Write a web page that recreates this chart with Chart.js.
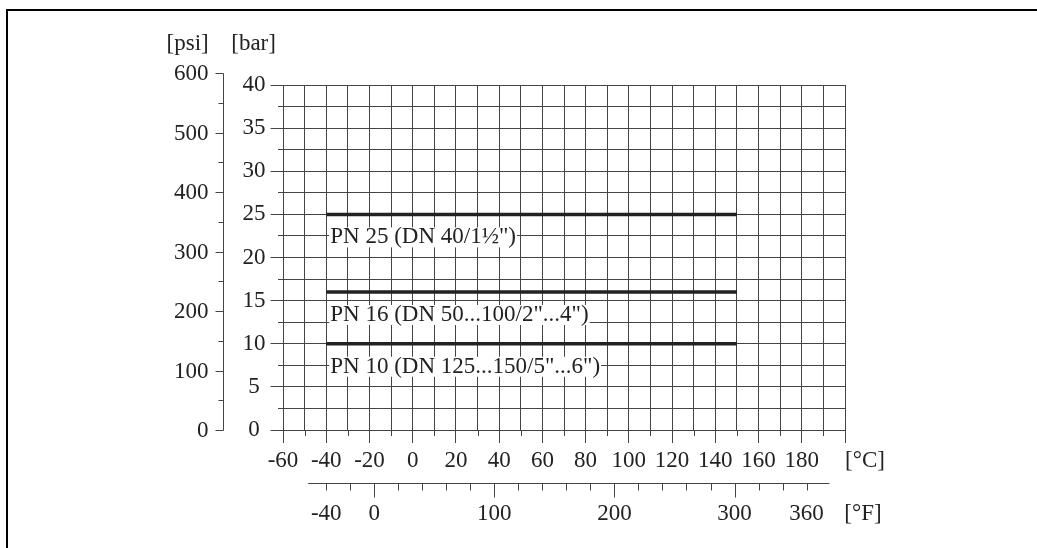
<!DOCTYPE html>
<html lang="de">
<head>
<meta charset="UTF-8">
<title>Druck-Temperatur-Kurve</title>
<script src="https://cdn.jsdelivr.net/npm/chart.js"></script>
<style>
  body { margin: 0; background: #fff; }
  .frame { position: absolute; left: 6px; top: 9px; width: 1031px; height: 539px;
           border-top: 2px solid #000; border-left: 2px solid #000; box-sizing: border-box; }
  canvas { position: absolute; left: 0; top: 0; }
</style>
</head>
<body>
<div class="frame"></div>
<canvas id="ptChart" width="1037" height="548"></canvas>
<script>
// axis ticks
const celsiusTicks = [-60, -50, -40, -30, -20, -10, 0, 10, 20, 30, 40, 50, 60, 70, 80, 90, 100, 110, 120, 130, 140, 150, 160, 170, 180, 190, 200];
const celsiusLabels = [-60, -40, -20, 0, 20, 40, 60, 80, 100, 120, 140, 160, 180];
const psiTicks = [0, 50, 100, 150, 200, 250, 300, 350, 400, 450, 500, 550, 600];
const psiLabels = [0, 100, 200, 300, 400, 500, 600];
const fahrenheitTicks = [-40, -20, 0, 20, 40, 60, 80, 100, 120, 140, 160, 180, 200, 220, 240, 260, 280, 300, 320, 340, 360];
const fahrenheitMajor = [0, 100, 200, 300];
const fahrenheitLabels = [-40, 0, 100, 200, 300, 360];

// pressure ratings
const ratingNames = ['PN 25 (DN 40/1½")', 'PN 16 (DN 50...100/2"...4")', 'PN 10 (DN 125...150/5"...6")'];
const ratingBar = [25, 16, 10];
const tempFrom = [-40, -40, -40];
const tempTo = [150, 150, 150];

const PSI_PER_BAR = 14.5038;
const FONT = '23px "Liberation Serif", serif';
const INK = '#222';
const GRID = '#444';

const toC = f => (f - 32) / 1.8;

function seg(ctx, x1, y1, x2, y2) {
  ctx.beginPath();
  ctx.moveTo(x1, y1);
  ctx.lineTo(x2, y2);
  ctx.stroke();
}
const al = v => Math.round(v) + 0.5;

const extras = {
  id: 'extras',
  beforeDatasetsDraw(chart) {
    // labels under each line, on white
    const { ctx, scales: { x, y } } = chart;
    ctx.save();
    ctx.font = FONT;
    ctx.textBaseline = 'middle';
    ctx.textAlign = 'left';
    ratingNames.forEach((name, i) => {
      const tx = x.getPixelForValue(tempFrom[i]) + 4;
      const ty = y.getPixelForValue(ratingBar[i]) + 23;
      const w = ctx.measureText(name).width;
      ctx.fillStyle = '#fff';
      ctx.fillRect(tx - 1, ty - 10, w + 2, 20);
      ctx.fillStyle = INK;
      ctx.fillText(name, tx, ty);
    });
    ctx.restore();
  },
  afterDraw(chart) {
    const { ctx, chartArea: a, scales: { x, y } } = chart;
    ctx.save();
    ctx.strokeStyle = GRID;
    ctx.lineWidth = 1;
    ctx.font = FONT;
    ctx.fillStyle = INK;

    // short °C ticks
    celsiusTicks.filter(v => v % 20 !== 0).forEach(v => {
      const px = al(x.getPixelForValue(v));
      seg(ctx, px, a.bottom, px, a.bottom + 6);
    });

    // psi axis
    const ax = al(a.left - 55);
    const psiTop = y.getPixelForValue(psiTicks[psiTicks.length - 1] / PSI_PER_BAR);
    seg(ctx, ax, al(psiTop), ax, al(y.getPixelForValue(0)));
    ctx.textAlign = 'right';
    ctx.textBaseline = 'middle';
    psiTicks.forEach(p => {
      const py = al(y.getPixelForValue(p / PSI_PER_BAR));
      const major = psiLabels.includes(p);
      seg(ctx, ax - (major ? 8 : 5), py, ax, py);
      if (major) ctx.fillText(String(p), ax - 15, py);
    });

    // °F axis
    const fy = al(a.bottom + 53);
    seg(ctx, x.getPixelForValue(toC(-55)), fy, x.getPixelForValue(toC(379)), fy);
    ctx.textAlign = 'center';
    fahrenheitTicks.forEach(f => {
      const px = al(x.getPixelForValue(toC(f)));
      seg(ctx, px, fy, px, fy + (fahrenheitMajor.includes(f) ? 14 : 7));
    });
    fahrenheitLabels.forEach(f => {
      ctx.fillText(String(f), x.getPixelForValue(toC(f)), a.bottom + 84);
    });

    // unit labels
    ctx.fillText('[°C]', a.right + 20, a.bottom + 31);
    ctx.fillText('[°F]', a.right + 18, a.bottom + 84);
    ctx.fillText('[psi]', a.left - 90, 44);
    ctx.fillText('[bar]', a.left - 24, 44);
    ctx.restore();
  }
};

Chart.defaults.font.family = '"Liberation Serif", serif';
Chart.defaults.font.size = 23;
Chart.defaults.color = INK;

new Chart(document.getElementById('ptChart'), {
  type: 'line',
  data: {
    datasets: ratingNames.map((name, i) => ({
      label: name,
      data: [{ x: tempFrom[i], y: ratingBar[i] }, { x: tempTo[i], y: ratingBar[i] }],
      borderColor: INK,
      borderWidth: 3.5,
      pointRadius: 0,
      borderCapStyle: 'butt'
    }))
  },
  options: {
    responsive: false,
    animation: false,
    devicePixelRatio: 1,
    layout: { padding: { left: 227.6, right: 192, top: 85, bottom: 0 } },
    plugins: { legend: { display: false }, tooltip: { enabled: false } },
    scales: {
      x: {
        type: 'linear',
        min: -62.5,
        max: 200,
        afterBuildTicks: s => { s.ticks = celsiusTicks.map(v => ({ value: v })); },
        afterFit: s => { s.height = 118; },
        border: { display: false },
        grid: {
          color: GRID,
          lineWidth: 1,
          tickLength: 13,
          tickColor: c => (c.tick && c.tick.value % 20 === 0) ? GRID : 'transparent'
        },
        ticks: {
          autoSkip: false,
          maxRotation: 0,
          padding: 4,
          callback: v => celsiusLabels.includes(v) ? String(v) : ''
        }
      },
      y: {
        min: 0,
        max: 40,
        afterFit: s => { s.width = 50; },
        border: { display: false },
        grid: {
          color: GRID,
          lineWidth: 1,
          tickLength: 7,
          tickColor: c => (c.tick && c.tick.value % 5 === 0) ? GRID : 'transparent'
        },
        ticks: {
          stepSize: 2.5,
          autoSkip: false,
          crossAlign: 'center',
          padding: 5,
          callback: v => v % 5 === 0 ? String(v) : ''
        }
      }
    }
  },
  plugins: [extras]
});
</script>
</body>
</html>
